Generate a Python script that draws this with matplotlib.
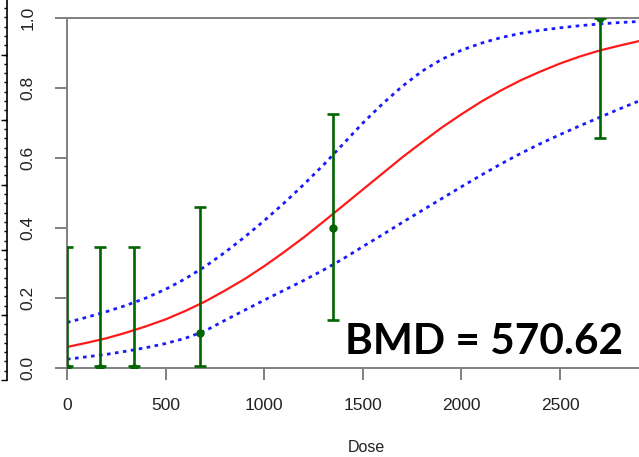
import matplotlib.pyplot as plt
from matplotlib.ticker import MultipleLocator

plt.switch_backend('agg')
plt.rcParams['font.family'] = ['Liberation Sans', 'DejaVu Sans']

# observed data: dose, proportion and its interval
dose = [0, 168.75, 337.5, 675, 1350, 2700]
resp = [0.0, 0.0, 0.0, 0.1, 0.4, 1.0]
ci_low = [0.007, 0.007, 0.007, 0.007, 0.137, 0.657]
ci_high = [0.345, 0.345, 0.345, 0.459, 0.727, 1.0]

# fitted curve and its confidence band, every 100 units
grid = list(range(0, 3000, 100))
fit = [0.060, 0.072, 0.085, 0.101, 0.119, 0.139, 0.163, 0.190, 0.221, 0.254,
       0.291, 0.331, 0.373, 0.418, 0.464, 0.510, 0.556, 0.602, 0.645, 0.687,
       0.725, 0.761, 0.793, 0.822, 0.847, 0.870, 0.890, 0.907, 0.921, 0.934]
upper = [0.130, 0.145, 0.161, 0.179, 0.200, 0.225, 0.255, 0.290, 0.330, 0.374,
         0.421, 0.471, 0.524, 0.580, 0.640, 0.700, 0.755, 0.805, 0.848, 0.882,
         0.908, 0.928, 0.944, 0.956, 0.965, 0.972, 0.978, 0.983, 0.987, 0.990]
lower = [0.025, 0.032, 0.039, 0.048, 0.058, 0.070, 0.085, 0.106, 0.136, 0.165,
         0.194, 0.222, 0.250, 0.280, 0.312, 0.347, 0.381, 0.416, 0.450, 0.484,
         0.518, 0.551, 0.583, 0.613, 0.641, 0.667, 0.692, 0.716, 0.740, 0.763]

W, H = 639, 457
fig = plt.figure(figsize=(W / 100, H / 100), dpi=100)
ax = fig.add_axes([67 / W, 89 / H, 572 / W, 350 / H])

grey = '#808080'
green = '#006400'
ax.plot(grid, fit, color='#ff1a1a', lw=1.6)
ax.plot(grid, upper, color='#1a1aff', lw=2, linestyle=(0, (1.3, 1.6)))
ax.plot(grid, lower, color='#1a1aff', lw=2, linestyle=(0, (1.3, 1.6)))

# interval bars drawn around their midpoints, points on top
mid = [(lo + hi) / 2 for lo, hi in zip(ci_low, ci_high)]
half = [(hi - lo) / 2 for lo, hi in zip(ci_low, ci_high)]
ax.errorbar(dose, mid, yerr=half, fmt='none', ecolor=green, lw=1.9,
            capsize=4.5, capthick=1.9, zorder=3)
ax.plot(dose, resp, 'o', color=green, ms=5, zorder=4)

ax.set_xlim(0, 2900)
ax.set_ylim(0, 1)
ax.set_xticks([0, 500, 1000, 1500, 2000, 2500])
ax.set_yticks([0.0, 0.2, 0.4, 0.6, 0.8, 1.0])
ax.set_yticklabels(['0.0', '0.2', '0.4', '0.6', '0.8', '1.0'], rotation=90, va='center')
ax.tick_params(colors=grey, labelcolor='#222222', length=8.5, width=1.4, labelsize=12.5)
ax.tick_params(axis='x', pad=13)
ax.tick_params(axis='y', pad=14)
for side in ['left', 'bottom', 'top']:
    ax.spines[side].set_color(grey)
    ax.spines[side].set_linewidth(1.4)
ax.spines['right'].set_visible(False)

fig.text(366 / W, 1 - 447 / H, 'Dose', ha='center', va='center', fontsize=11.5, color='#222222')
fig.text(484 / W, 1 - 342 / H, 'BMD = 570.62', ha='center', va='center',
         fontsize=30.5, fontweight='bold', family=['Lato', 'DejaVu Sans'])

# cropped ruler from the neighbouring panel at the far left edge
rul = fig.add_axes([0, 77 / H, 7 / W, 380 / H])
rul.set_xlim(0, 1)
rul.set_ylim(0, 380)
for side in ['left', 'top', 'bottom']:
    rul.spines[side].set_visible(False)
rul.spines['right'].set_linewidth(1.2)
rul.xaxis.set_visible(False)
rul.yaxis.tick_right()
rul.yaxis.set_major_locator(MultipleLocator(65))
rul.yaxis.set_minor_locator(MultipleLocator(9.3))
rul.tick_params(axis='y', which='both', direction='in', labelright=False, width=1)
rul.tick_params(axis='y', which='major', length=4)
rul.tick_params(axis='y', which='minor', length=2)

fig.savefig('out.png', dpi=100)
